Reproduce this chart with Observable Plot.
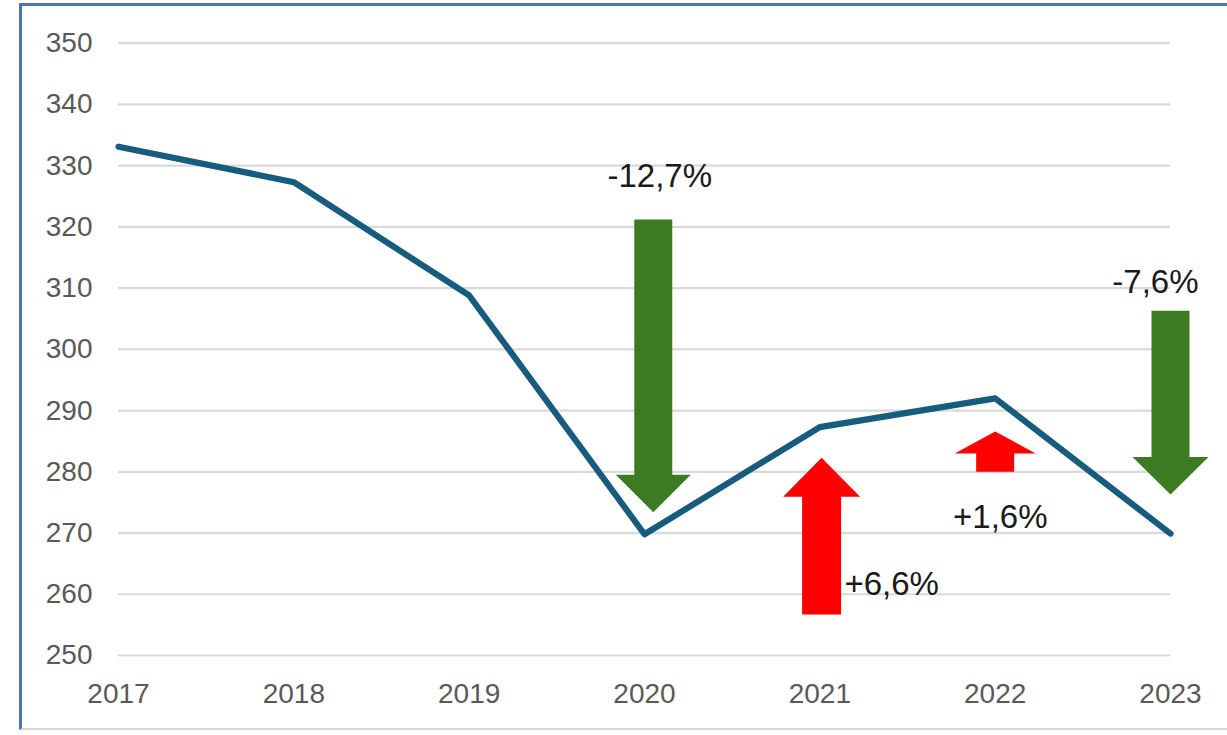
<!DOCTYPE html>
<html>
<head>
<meta charset="utf-8">
<script src="https://cdn.jsdelivr.net/npm/d3@7"></script>
<script src="https://cdn.jsdelivr.net/npm/@observablehq/plot@0.6"></script>
<style>
  html, body { margin: 0; padding: 0; background: #ffffff; overflow: hidden; }
  #wrap { position: relative; width: 1227px; height: 735px; }
  #frame {
    position: absolute; left: 19px; top: 3px; width: 1300px; height: 727px;
    border-left: 3px solid #4a78ad; border-top: 3px solid #4a78ad;
    border-bottom: 2px solid #d6d6d6; pointer-events: none; box-sizing: border-box;
  }
  #chart { position: absolute; left: 0; top: 0; }
</style>
</head>
<body>
<div id="wrap"><div id="chart"></div><div id="frame"></div></div>
<script>
// ---- data ----
const years = [2017, 2018, 2019, 2020, 2021, 2022, 2023];
const values = [333.1, 327.3, 308.8, 269.8, 287.3, 292.0, 269.9];
const yTicks = [250, 260, 270, 280, 290, 300, 310, 320, 330, 340, 350];

// change arrows (position on year axis, start value, end value)
const arrowYear = [2020.05, 2021.01, 2022.0, 2023.0];
const arrowFrom = [321.2, 256.7, 280.0, 306.3];
const arrowTo = [273.4, 282.3, 286.6, 276.3];

// change labels
const labelText = ["-12,7%", "+6,6%", "+1,6%", "-7,6%"];
const labelYear = [2020.087, 2021.14, 2022.029, 2022.914];
const labelValue = [328.2, 261.6, 272.6, 311.0];

// ---- styles ----
const W = 1227, H = 735;
const mL = 118, mR = 57, mT = 42.7, mB = 80;
const xPerPx = (years[years.length - 1] - years[0]) / (W - mL - mR);
const yPerPx = (yTicks[yTicks.length - 1] - yTicks[0]) / (H - mT - mB);
const shaftHalf = [19, 19.5, 19, 19];
const headHalf = [37.5, 38.5, 40.5, 38];
const headLen = [37.5, 39, 22, 37.5];
const labelAnchor = ["middle", "start", "middle", "middle"];
const green = "#3c7b22", red = "#ff0000";

// build arrow polygons in data space
const arrowPts = [];
arrowYear.forEach((x, i) => {
  const from = arrowFrom[i], to = arrowTo[i];
  const dir = Math.sign(to - from);
  const sw = shaftHalf[i] * xPerPx, hw = headHalf[i] * xPerPx;
  const base = to - dir * headLen[i] * yPerPx;
  const color = dir < 0 ? green : red;
  const pts = [
    [x - sw, from], [x + sw, from], [x + sw, base], [x + hw, base],
    [x, to], [x - hw, base], [x - sw, base], [x - sw, from]
  ];
  pts.forEach(([px, py]) => arrowPts.push({id: i, x: px, y: py, color}));
});

const series = years.map((y, i) => ({year: y, value: values[i]}));
const labels = labelText.map((t, i) => ({text: t, x: labelYear[i], y: labelValue[i], anchor: labelAnchor[i]}));

const marks = [
  Plot.ruleY(yTicks, {stroke: "#d9d9d9", strokeWidth: 2.2}),
  Plot.line(series, {x: "year", y: "value", stroke: "#175c7c", strokeWidth: 6.2, strokeLinejoin: "round"}),
  Plot.line(arrowPts, {x: "x", y: "y", z: "id", fill: "color", stroke: null, curve: "linear"}),
];
["middle", "start"].forEach(a => {
  marks.push(Plot.text(labels.filter(d => d.anchor === a), {
    x: "x", y: "y", text: "text", textAnchor: a, fontSize: 33, fill: "#1a1a1a"
  }));
});

const chart = Plot.plot({
  width: W, height: H,
  marginLeft: mL, marginRight: mR, marginTop: mT, marginBottom: mB,
  style: {fontFamily: "'Liberation Sans', Arial, sans-serif", fontSize: "28px", color: "#595959", background: "transparent"},
  x: {type: "linear", domain: [2017, 2023], ticks: years, tickFormat: d => String(d), tickSize: 0, tickPadding: 28, label: null},
  y: {domain: [250, 350], ticks: yTicks, tickSize: 0, tickPadding: 26, label: null},
  color: {type: "identity"},
  marks
});
document.getElementById("chart").appendChild(chart);
</script>
</body>
</html>
